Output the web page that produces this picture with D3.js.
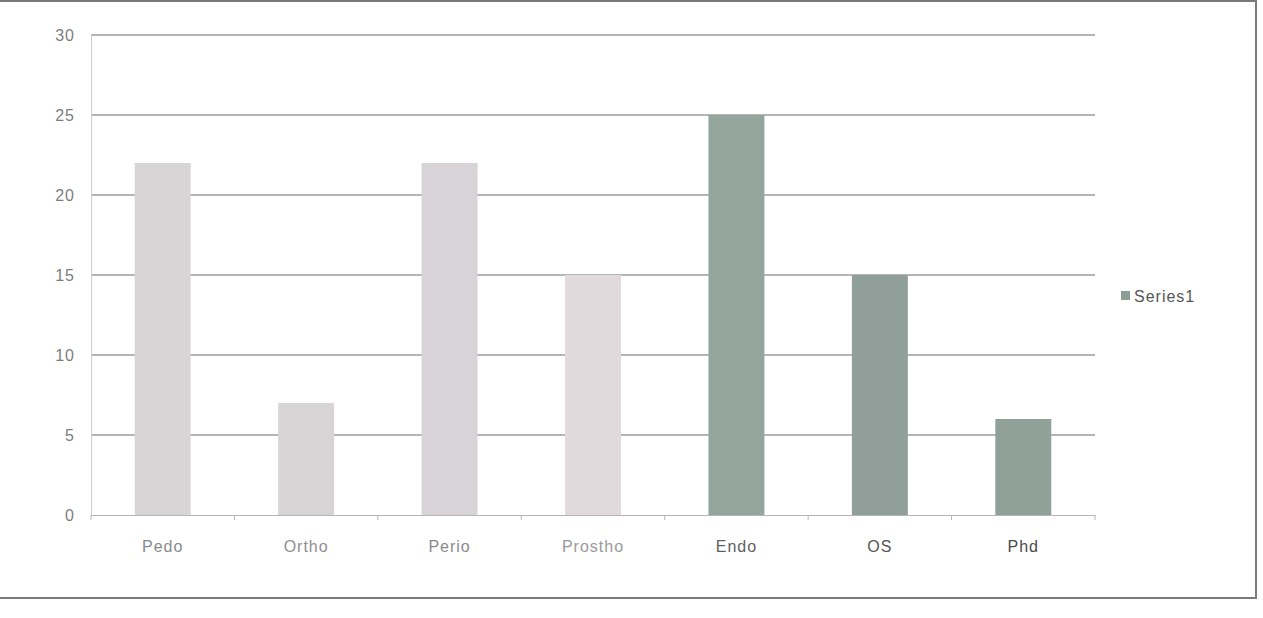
<!DOCTYPE html>
<html>
<head>
<meta charset="utf-8">
<script src="https://cdn.jsdelivr.net/npm/d3@7"></script>
<style>
  html, body { margin: 0; padding: 0; background: #fff; }
  svg { display: block; }
  text { font-family: "Liberation Sans", "DejaVu Sans", sans-serif; }
</style>
</head>
<body>
<svg id="chart" width="1263" height="618"></svg>
<script>
// Data
const categories = ["Pedo", "Ortho", "Perio", "Prostho", "Endo", "OS", "Phd"];
const values = [22, 7, 22, 15, 25, 15, 6];
const yTicks = [0, 5, 10, 15, 20, 25, 30];
const seriesName = "Series1";
const barColors = ["#d8d5d7", "#d6d4d5", "#d7d3d6", "#e0dadd", "#93a59d", "#909f99", "#8fa199"];
const labelColors = ["#8a8a8a", "#8f8f8f", "#8a8a8a", "#9a9a9a", "#5f5f5f", "#555", "#4a4a4a"];

const svg = d3.select("#chart");

// scan frame
svg.append("rect").attr("x", -4).attr("y", 1).attr("width", 1260).attr("height", 597)
  .attr("fill", "none").attr("stroke", "#7a7a7a").attr("stroke-width", 2);

const x0 = 91, x1 = 1095, yTop = 35, yBot = 515;
const x = d3.scaleBand().domain(categories).range([x0, x1]).paddingInner(0.61).paddingOuter(0.305);
const y = d3.scaleLinear().domain([0, 30]).range([yBot, yTop]);

// gridlines
svg.append("g").selectAll("line").data(yTicks.filter(d => d > 0)).join("line")
  .attr("x1", x0).attr("x2", x1)
  .attr("y1", d => y(d)).attr("y2", d => y(d))
  .attr("stroke", "#9c9c9c").attr("stroke-width", 1.5);

// y axis
const yAxis = d3.axisLeft(y).tickValues(yTicks).tickSize(0).tickPadding(16);
const gy = svg.append("g").attr("transform", `translate(${x0},0)`).call(yAxis);
gy.select(".domain").attr("stroke", "#d0d0d0");
gy.selectAll("text").attr("fill", "#7d7d7d").attr("font-size", 16).attr("letter-spacing", 1);

// bars
svg.append("g").selectAll("rect").data(values).join("rect")
  .attr("x", (d, i) => x(categories[i]))
  .attr("y", d => y(d))
  .attr("width", x.bandwidth())
  .attr("height", d => yBot - y(d))
  .attr("fill", (d, i) => barColors[i]);

// x axis
const xAxis = d3.axisBottom(x).tickSize(0).tickPadding(26);
const gx = svg.append("g").attr("transform", `translate(0,${yBot})`).call(xAxis);
gx.select(".domain").attr("stroke", "#b5b5b5").attr("stroke-width", 1.2);
gx.selectAll("text").attr("font-size", 16).attr("letter-spacing", 1).attr("fill", (d, i) => labelColors[i]);
// category separator ticks
const step = x.step();
gx.append("g").selectAll("line").data(d3.range(categories.length + 1)).join("line")
  .attr("x1", i => x0 + i * step).attr("x2", i => x0 + i * step)
  .attr("y1", 0).attr("y2", 5).attr("stroke", "#b5b5b5");

// legend
const lg = svg.append("g").attr("transform", "translate(1121,296)");
lg.append("rect").attr("x", 0).attr("y", -5).attr("width", 9).attr("height", 9).attr("fill", "#8b9d95");
lg.append("text").attr("x", 13).attr("y", 0).attr("dy", "0.35em")
  .attr("font-size", 16).attr("letter-spacing", 1).attr("fill", "#555").text(seriesName);
</script>
</body>
</html>
